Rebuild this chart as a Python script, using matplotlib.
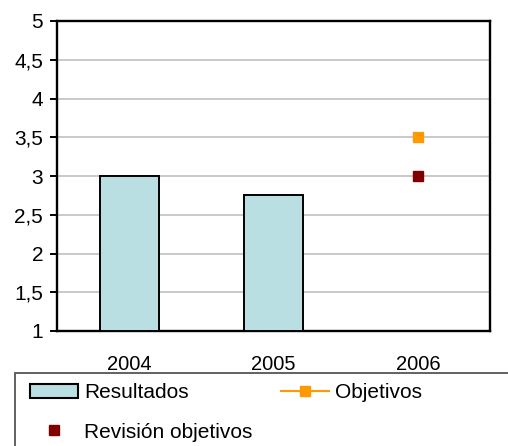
import matplotlib.pyplot as plt
from matplotlib.patches import Rectangle
from matplotlib.lines import Line2D
from matplotlib.ticker import FuncFormatter, MultipleLocator

years = ["2004", "2005", "2006"]
resultados = [3.0, 2.75, None]
objetivos = [None, None, 3.5]
revision = [None, None, 3.0]

plt.rcParams["font.family"] = ["Liberation Sans", "DejaVu Sans"]
plt.rcParams["font.size"] = 15

fig = plt.figure(figsize=(5.08, 4.46), dpi=100)
ax = fig.add_axes([57 / 508, 1 - 331 / 446, 433 / 508, 310 / 446])

x = list(range(len(years)))
bar_x = [i for i, v in zip(x, resultados) if v is not None]
bar_y = [v for v in resultados if v is not None]
ax.bar(bar_x, [v - 1 for v in bar_y], bottom=1, width=0.41,
       color="#B9DFE2", edgecolor="black", linewidth=1.4, zorder=3)

obj_x = [i for i, v in zip(x, objetivos) if v is not None]
obj_y = [v for v in objetivos if v is not None]
ax.plot(obj_x, obj_y, color="#FF9900", marker="s", markersize=6.5,
        linewidth=1.5, zorder=4)

rev_x = [i for i, v in zip(x, revision) if v is not None]
rev_y = [v for v in revision if v is not None]
ax.plot(rev_x, rev_y, linestyle="none", color="#800000", marker="s",
        markersize=6.5, zorder=4)

ax.set_xlim(-0.5, 2.5)
ax.set_ylim(1, 5)
ax.set_xticks(x)
ax.set_xticklabels(years, fontsize=14.5)
ax.yaxis.set_major_locator(MultipleLocator(0.5))
ax.yaxis.set_major_formatter(
    FuncFormatter(lambda v, p: "{:g}".format(v).replace(".", ",")))
ax.grid(axis="y", color="#C0C0C0", linewidth=1.2, zorder=0)
ax.tick_params(axis="x", length=0, pad=17)
ax.tick_params(axis="y", length=5, width=1.4, pad=5)
for s in ax.spines.values():
    s.set_linewidth(1.7)

handles = [
    Rectangle((0, 0), 1, 1, facecolor="#B9DFE2", edgecolor="black",
              linewidth=1.5),
    Line2D([], [], linestyle="none", color="#800000", marker="s",
           markersize=6.5),
    Line2D([], [], color="#FF9900", marker="s", markersize=6.5,
           linewidth=1.5),
]
labels = ["Resultados", "Revisión objetivos", "Objetivos"]
fig.legend(handles, labels, loc="upper left",
           bbox_to_anchor=(19.6 / 508, 1 - 373 / 446), ncol=2,
           frameon=False, handlelength=2.3, handletextpad=0.3,
           columnspacing=1.35, labelspacing=0.97, borderpad=0.5,
           borderaxespad=0, numpoints=1)
fig.patches.append(Rectangle((15 / 508, -0.05), 1.0, 0.05 + 73 / 446,
                             transform=fig.transFigure, fill=False,
                             edgecolor="#555555", linewidth=1.3))

fig.savefig("out.png", dpi=100)
